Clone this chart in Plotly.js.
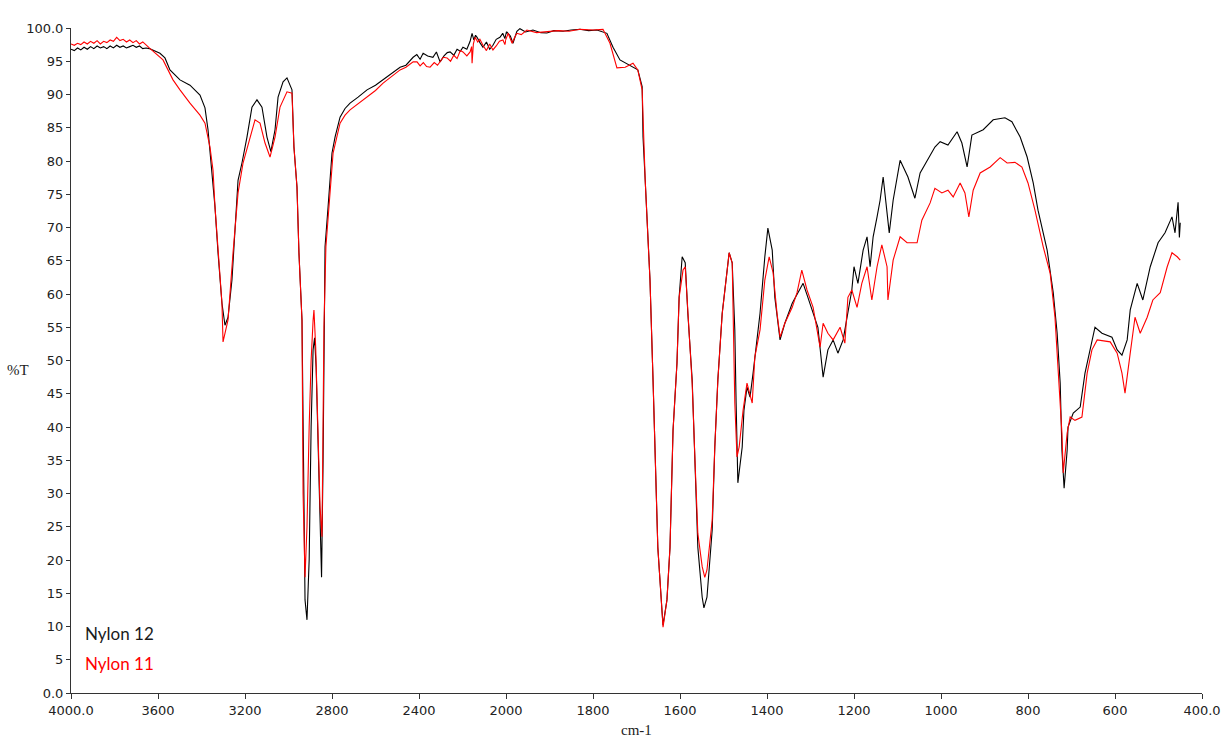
<!DOCTYPE html>
<html>
<head>
<meta charset="utf-8">
<script src="https://cdn.plot.ly/plotly-3.0.1.min.js"></script>
<style>html,body{margin:0;padding:0;background:#fff;}#chart{width:1225px;height:738px;}</style>
</head>
<body>
<div id="chart"></div>
<script>
// Nylon 12 (black) – wavenumber (cm-1) and %T
const nylon12Wn = [4000,3985,3970,3955,3940,3925,3910,3895,3880,3865,3850,3835,3820,3805,3790,3775,3760,3745,3730,3715,3700,3685,3670,3655,3640,3591,3568,3545,3499,3453,3407,3384,3370,3352,3338,3324,3306,3292,3278,3260,3246,3232,3214,3191,3168,3145,3122,3099,3081,3062,3048,3025,3007,2984,2975,2961,2952,2938,2924,2915,2905,2896,2887,2880,2873,2864,2855,2848,2841,2837,2832,2818,2800,2786,2763,2740,2717,2680,2639,2600,2565,2530,2487,2460,2427,2410,2395,2381,2360,2336,2320,2303,2285,2270,2257,2240,2225,2210,2198,2180,2165,2156,2148,2140,2133,2120,2106,2090,2075,2060,2045,2028,2015,2005,1998,1990,1984,1975,1968,1955,1938,1920,1906,1890,1869,1850,1830,1810,1791,1768,1754,1738,1715,1697,1687,1685,1680,1674,1669,1662,1657,1651,1641,1639,1630,1623,1616,1607,1602,1595,1588,1582,1572,1565,1559,1549,1545,1538,1526,1520,1513,1503,1492,1487,1480,1474,1471,1469,1467,1457,1453,1446,1439,1432,1423,1416,1405,1398,1388,1382,1370,1359,1342,1329,1317,1306,1294,1283,1271,1260,1248,1237,1225,1216,1205,1200,1191,1179,1170,1163,1156,1147,1140,1133,1124,1119,1110,1094,1076,1060,1048,1032,1014,1002,984,963,952,940,929,903,880,853,837,818,802,788,777,756,742,733,726,722,717,710,708,696,680,669,657,646,630,607,595,584,572,565,549,536,519,501,485,469,462,455,452,450];
const nylon12T  = [96.8,96.6,97.0,96.7,97.1,96.8,97.2,96.9,97.3,97.0,97.2,96.9,97.3,97.0,97.4,97.1,97.3,97.0,97.2,97.4,97.1,97.3,96.9,97.0,96.9,96.2,95.5,93.7,92.2,91.4,89.9,88.0,84.7,78.6,73.1,66.2,58.6,55.3,56.5,62.1,70.1,77.1,79.7,83.6,88.1,89.2,88.1,83.6,81.4,84.7,89.6,91.9,92.5,90.7,82.1,76.1,66.2,56.1,14.0,11.0,20.0,40.0,51.6,53.4,49.0,38.0,24.0,17.4,35.0,50.0,67.1,73.1,81.2,83.6,86.6,87.9,88.7,89.6,90.7,91.4,92.2,93.1,94.1,94.4,95.6,96.0,95.3,96.2,95.8,95.6,96.4,94.9,95.8,96.3,96.4,95.9,96.8,96.5,97.1,96.8,98.0,99.2,98.2,98.9,98.6,97.8,97.1,97.9,96.8,97.4,98.3,98.6,99.2,98.4,99.4,98.8,97.7,99.5,99.9,99.4,99.7,99.3,99.25,99.6,99.5,99.7,99.8,99.6,99.7,99.2,97.1,95.2,94.4,93.7,91.2,83.6,77.1,69.6,62.1,47.1,34.6,21.9,12.0,10.2,14.0,21.9,39.5,49.6,59.5,65.6,64.7,57.1,47.1,34.6,21.9,14.4,12.8,14.4,24.5,37.0,47.1,57.1,63.6,66.2,64.7,54.6,43.6,34.6,31.6,37.0,42.5,46.0,44.5,48.1,53.1,57.1,65.6,69.9,66.6,59.5,53.1,55.6,58.6,60.2,61.6,59.5,57.1,55.0,47.5,51.6,53.1,51.1,53.1,56.5,60.6,64.1,61.6,66.6,68.6,64.1,68.6,71.6,74.1,77.6,72.6,69.2,74.1,80.1,77.6,74.4,78.2,80.1,82.1,82.9,82.4,84.4,82.7,79.1,83.9,84.7,86.2,86.5,85.9,83.6,80.6,76.7,72.6,66.6,60.2,54.1,46.6,36.5,30.8,36.5,40.0,42.1,43.0,48.1,51.6,55.0,54.1,53.5,51.6,50.8,53.1,57.6,61.6,59.1,64.1,67.7,69.2,71.6,69.2,73.8,68.5,70.7];

// Nylon 11 (red)
const nylon11Wn = [4000,3985,3970,3955,3940,3925,3910,3895,3880,3865,3850,3835,3820,3805,3790,3775,3760,3745,3730,3715,3700,3685,3670,3655,3640,3577,3531,3499,3453,3407,3384,3361,3347,3338,3324,3306,3301,3278,3255,3232,3209,3177,3154,3131,3108,3085,3062,3039,3007,2984,2975,2961,2952,2938,2933,2924,2915,2905,2896,2887,2883,2875,2864,2855,2846,2837,2828,2809,2795,2763,2740,2717,2680,2639,2600,2565,2530,2487,2460,2427,2409,2395,2380,2365,2349,2330,2315,2303,2288,2271,2255,2240,2225,2210,2198,2180,2165,2158,2156,2150,2142,2130,2120,2106,2090,2075,2060,2045,2030,2014,2005,1995,1986,1980,1975,1965,1952,1930,1906,1880,1855,1830,1800,1777,1761,1745,1726,1708,1697,1687,1680,1674,1669,1662,1657,1651,1641,1639,1630,1623,1616,1607,1602,1593,1588,1582,1572,1565,1559,1549,1543,1538,1526,1520,1513,1503,1492,1487,1480,1474,1469,1464,1455,1446,1434,1428,1416,1405,1395,1386,1377,1370,1359,1342,1331,1320,1308,1294,1278,1271,1260,1248,1232,1221,1214,1205,1193,1182,1170,1159,1147,1136,1124,1122,1110,1094,1078,1055,1044,1025,1014,998,984,972,956,945,936,926,910,887,864,848,830,814,800,784,765,749,738,731,722,719,710,703,692,676,664,653,641,611,595,584,577,565,554,542,526,513,496,480,469,457,450];
const nylon11T  = [97.6,97.4,97.7,97.5,97.9,97.6,98.0,97.7,98.1,97.6,98.0,97.8,98.2,98.0,98.6,98.1,98.3,97.9,98.2,97.8,98.1,97.6,97.9,97.4,97.0,95.2,92.2,90.7,88.7,86.9,85.7,82.1,78.6,73.1,66.2,58.6,52.8,56.1,66.2,75.2,79.7,83.6,86.2,85.7,82.7,80.6,83.6,88.1,90.4,90.2,82.1,76.1,66.2,56.1,30.0,17.4,25.0,40.0,50.0,56.0,57.6,52.0,40.0,28.0,23.5,55.0,67.1,76.1,81.2,85.7,86.9,87.7,88.6,89.6,90.6,91.7,92.6,93.7,94.1,94.9,94.9,94.3,94.8,94.2,94.1,94.8,94.4,94.9,95.6,95.5,95.0,95.9,95.4,96.6,96.4,95.8,96.4,97.2,94.7,97.6,98.6,97.9,98.3,97.4,96.6,97.6,96.7,97.3,98.0,98.2,97.5,99.2,97.7,98.6,99.2,99.0,99.7,99.3,99.4,99.6,99.5,99.8,99.7,99.8,97.7,94.0,94.1,94.7,93.7,90.7,77.1,69.6,62.1,47.1,34.6,21.9,12.0,9.9,14.0,21.9,39.5,49.6,59.5,63.6,64.1,57.0,46.5,34.0,24.0,19.0,17.4,18.5,26.0,37.0,47.0,57.0,63.6,66.2,64.7,43.6,35.5,37.0,42.5,46.6,43.6,50.5,54.6,62.1,65.6,63.2,57.1,53.5,55.6,58.0,60.2,63.6,60.6,58.0,52.0,55.6,54.1,53.1,55.0,52.6,59.5,60.6,58.0,61.6,64.1,59.1,64.1,67.4,64.1,59.1,65.1,68.6,67.7,67.7,71.1,73.7,75.9,75.2,75.6,74.6,76.7,75.2,71.6,75.6,78.2,79.1,80.5,79.7,79.8,79.1,76.7,72.6,67.1,63.1,56.5,49.0,39.1,33.1,39.1,41.5,41.0,41.5,48.1,51.6,53.1,52.8,51.1,48.1,45.1,51.1,56.5,54.1,56.5,59.1,60.2,64.1,66.2,65.6,65.1];

// Axis tick labels
const yTickVals = [0,5,10,15,20,25,30,35,40,45,50,55,60,65,70,75,80,85,90,95,100];
const yTickText = ["0.0","5","10","15","20","25","30","35","40","45","50","55","60","65","70","75","80","85","90","95","100.0"];
const xHighTickVals = [4000,3600,3200,2800,2400];
const xHighTickText = ["4000.0","3600","3200","2800","2400"];
const xLowTickVals = [2000,1800,1600,1400,1200,1000,800,600,400];
const xLowTickText = ["2000","1800","1600","1400","1200","1000","800","600","400.0"];

const seriesNames = ["Nylon 12","Nylon 11"];
const seriesColors = ["#000000","#ff0000"];

const split = 435/1131;
const tickFont = {family:"DejaVu Sans, Verdana, sans-serif", size:13, color:"#222"};

const traces = [];
[["x","y"],["x2","y"]].forEach(function(ax){
  traces.push({x:nylon12Wn, y:nylon12T, xaxis:ax[0], yaxis:ax[1], type:"scatter", mode:"lines",
    line:{color:seriesColors[0], width:1.1}, name:seriesNames[0], showlegend:false, hoverinfo:"skip"});
  traces.push({x:nylon11Wn, y:nylon11T, xaxis:ax[0], yaxis:ax[1], type:"scatter", mode:"lines",
    line:{color:seriesColors[1], width:1.1}, name:seriesNames[1], showlegend:false, hoverinfo:"skip"});
});

const axCommon = {showgrid:false, zeroline:false, showline:true, linecolor:"#333", linewidth:1,
  ticks:"outside", ticklen:5, tickcolor:"#333", tickfont:tickFont, tickmode:"array"};

const layout = {
  width:1225, height:738,
  margin:{l:71, r:23, t:28, b:45},
  paper_bgcolor:"#fff", plot_bgcolor:"#fff",
  showlegend:false,
  xaxis:Object.assign({}, axCommon, {domain:[0,split], range:[4000,2000], tickvals:xHighTickVals, ticktext:xHighTickText, anchor:"y"}),
  xaxis2:Object.assign({}, axCommon, {domain:[split,1], range:[2000,400], tickvals:xLowTickVals, ticktext:xLowTickText, anchor:"y"}),
  yaxis:Object.assign({}, axCommon, {range:[0,100], tickvals:yTickVals, ticktext:yTickText, ticklen:4, anchor:"x"}),
  annotations:[
    {text:seriesNames[0], xref:"x", yref:"y", x:3944, y:9.0, xanchor:"left", yanchor:"middle", showarrow:false,
      font:{family:"Lato, Open Sans, sans-serif", size:17, color:"#1a1a1a"}},
    {text:seriesNames[1], xref:"x", yref:"y", x:3944, y:4.5, xanchor:"left", yanchor:"middle", showarrow:false,
      font:{family:"Lato, Open Sans, sans-serif", size:17, color:"#ff0000"}},
    {text:"%T", xref:"paper", yref:"y", x:-0.047, y:48.6, xanchor:"center", yanchor:"middle", showarrow:false,
      font:{family:"Liberation Serif, Times New Roman, serif", size:15, color:"#222"}},
    {text:"cm-1", xref:"paper", yref:"paper", x:0.4996, y:-0.056, xanchor:"center", yanchor:"middle", showarrow:false,
      font:{family:"Liberation Serif, Times New Roman, serif", size:15, color:"#222"}}
  ]
};

Plotly.newPlot("chart", traces, layout, {displayModeBar:false, staticPlot:true});
</script>
</body>
</html>
